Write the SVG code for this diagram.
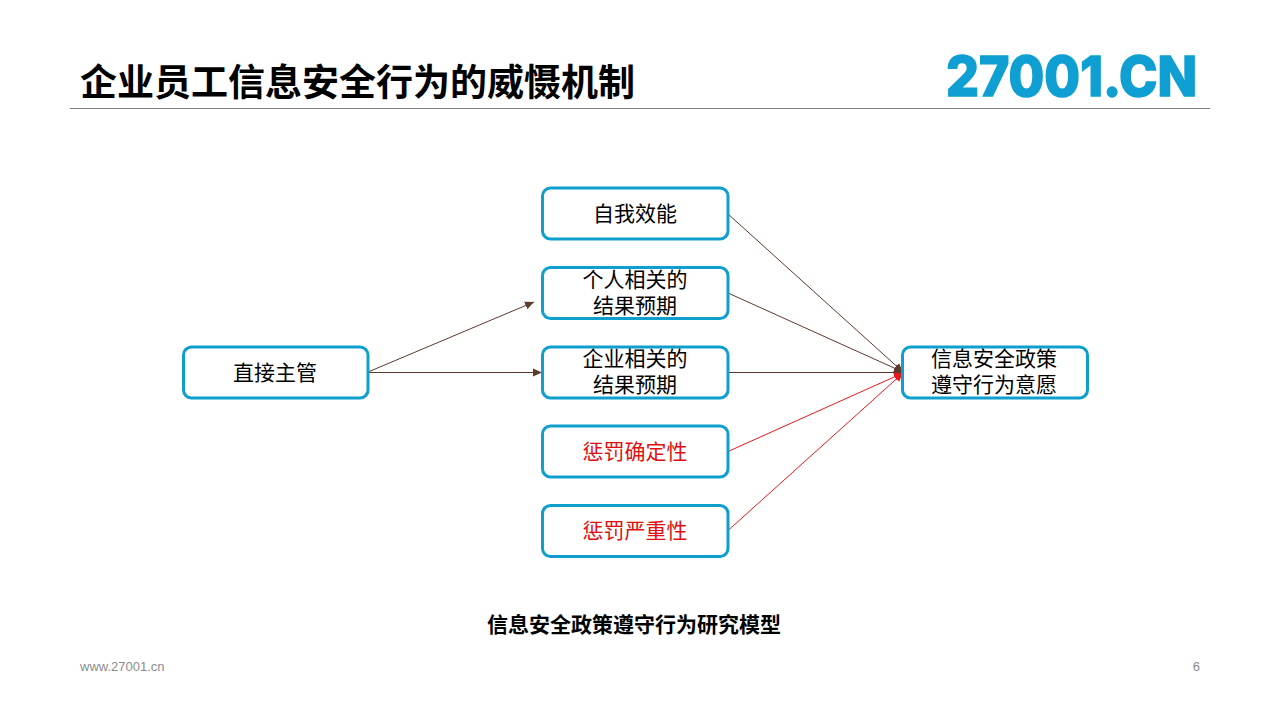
<svg xmlns="http://www.w3.org/2000/svg" width="1280" height="720" viewBox="0 0 1280 720">
<style>
text{font-family:"Noto Sans CJK SC","Liberation Sans",sans-serif}
.box{fill:#fff;stroke:#0f9fcf;stroke-width:3}
.t{font-size:21px;text-anchor:middle;fill:#000}
.r{fill:#e01010}
.cb{fill:none;stroke:#5c3a2e;stroke-width:1}
.cr{fill:none;stroke:#e8191c;stroke-width:1}
.en{font-family:"Liberation Sans",sans-serif;font-size:13px;fill:#8c8c8c}
</style>
<defs>
<marker id="ab" markerUnits="userSpaceOnUse" markerWidth="10" markerHeight="10" refX="9" refY="5" orient="auto"><path d="M0 1L9 5L0 9Z" fill="#5c3a2e"/></marker>
<marker id="ar" markerUnits="userSpaceOnUse" markerWidth="10" markerHeight="10" refX="9" refY="5" orient="auto"><path d="M0 1L9 5L0 9Z" fill="#e8191c"/></marker>
</defs>
<rect width="1280" height="720" fill="#fff"/>
<text x="80" y="96" font-size="37" font-weight="700" fill="#000">企业员工信息安全行为的威慑机制</text>
<text id="logo" x="946" y="96" style="font-family:'Inter','Liberation Sans',sans-serif" font-size="55" font-weight="800" fill="#0f9fd2" stroke="#0f9fd2" stroke-width="1.500" textLength="251" lengthAdjust="spacingAndGlyphs">27001.CN</text>
<line x1="70" y1="108.500" x2="1210" y2="108.500" stroke="#7f7f7f" stroke-width="1"/>
<g id="connectors">
<path class="cb" d="M368 372L534 302" marker-end="url(#ab)"/>
<path class="cb" d="M368 372.500H542" marker-end="url(#ab)"/>
<path class="cb" d="M728 214L903 372" marker-end="url(#ab)"/>
<path class="cb" d="M728 293L903 372" marker-end="url(#ab)"/>
<path class="cb" d="M728 372.500H903" marker-end="url(#ab)"/>
<path class="cr" d="M728 451.500L903 373" marker-end="url(#ar)"/>
<path class="cr" d="M728 530.500L903 373" marker-end="url(#ar)"/>
</g>
<g id="n-zhijie"><rect class="box" x="183.500" y="347" width="184.500" height="51" rx="8"/><text class="t" x="275" y="380">直接主管</text></g>
<g id="n-ziwo"><rect class="box" x="542.500" y="188" width="185.500" height="51" rx="8"/><text class="t" x="635" y="221">自我效能</text></g>
<g id="n-geren"><rect class="box" x="542.500" y="267.500" width="185.500" height="51" rx="8"/><text class="t" x="635" y="287">个人相关的<tspan x="635" dy="26">结果预期</tspan></text></g>
<g id="n-qiye"><rect class="box" x="542.500" y="347" width="185.500" height="51" rx="8"/><text class="t" x="635" y="366">企业相关的<tspan x="635" dy="26">结果预期</tspan></text></g>
<g id="n-queding"><rect class="box" x="542.500" y="426" width="185.500" height="51" rx="8"/><text class="t r" x="635" y="459">惩罚确定性</text></g>
<g id="n-yanzhong"><rect class="box" x="542.500" y="505.500" width="185.500" height="51" rx="8"/><text class="t r" x="635" y="538">惩罚严重性</text></g>
<g id="n-yiyuan"><rect class="box" x="902.500" y="347" width="185" height="51" rx="8"/><text class="t" x="994" y="366">信息安全政策<tspan x="994" dy="26">遵守行为意愿</tspan></text></g>
<text x="634" y="632" font-size="21" font-weight="700" text-anchor="middle" fill="#000">信息安全政策遵守行为研究模型</text>
<text class="en" x="80" y="671">www.27001.cn</text>
<text class="en" x="1200" y="671" text-anchor="end">6</text>
</svg>
